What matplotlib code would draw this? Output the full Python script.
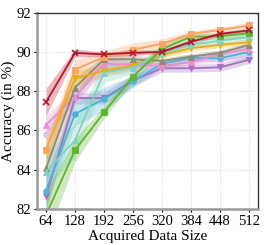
import matplotlib
matplotlib.use("Agg")
import matplotlib.pyplot as plt
import numpy as np

sizes = [64, 128, 192, 256, 320, 384, 448, 512]

red = [87.45, 89.95, 89.88, 89.96, 90.0, 90.52, 90.92, 91.1]
orange = [85.0, 89.1, 89.75, 90.12, 90.42, 90.92, 91.12, 91.35]
green = [81.7, 85.0, 86.92, 88.75, 90.15, 90.78, 90.8, 90.95]
teal = [83.9, 85.5, 88.95, 89.2, 89.95, 90.36, 90.58, 90.75]
yellow = [85.0, 88.65, 89.05, 89.3, 89.85, 90.19, 90.36, 90.5]
brown = [84.08, 88.18, 89.63, 89.63, 89.54, 89.76, 89.96, 90.35]
pink = [86.3, 87.7, 89.4, 89.35, 89.3, 89.48, 89.9, 90.15]
blue = [82.94, 86.85, 87.6, 88.5, 89.4, 89.7, 89.68, 90.0]
lavender = [85.8, 87.8, 89.15, 89.1, 89.35, 89.5, 89.6, 89.78]
purple = [82.64, 87.65, 87.65, 88.55, 89.17, 89.17, 89.22, 89.6]

red_sd = [0.7, 0.2, 0.12, 0.12, 0.12, 0.12, 0.1, 0.1]
orange_sd = [0.6, 0.5, 0.3, 0.35, 0.25, 0.15, 0.15, 0.15]
green_sd = [1.2, 0.6, 0.3, 0.25, 0.3, 0.2, 0.15, 0.15]
teal_sd = [0.8, 0.9, 0.5, 0.3, 0.2, 0.15, 0.15, 0.15]
yellow_sd = [0.6, 0.4, 0.3, 0.2, 0.15, 0.15, 0.15, 0.15]
brown_sd = [0.7, 0.5, 0.2, 0.2, 0.15, 0.15, 0.15, 0.15]
pink_sd = [0.5, 0.3, 0.3, 0.2, 0.15, 0.15, 0.15, 0.15]
blue_sd = [0.8, 0.6, 0.6, 0.3, 0.2, 0.2, 0.15, 0.15]
lavender_sd = [0.5, 0.3, 0.3, 0.2, 0.15, 0.15, 0.15, 0.15]
purple_sd = [0.8, 0.3, 0.3, 0.3, 0.2, 0.2, 0.2, 0.2]

series = [
    (lavender, lavender_sd, "#d8c3e6", "o"),
    (purple, purple_sd, "#a371bf", "v"),
    (blue, blue_sd, "#4eb3d3", "o"),
    (pink, pink_sd, "#e88fd0", "^"),
    (brown, brown_sd, "#8f8a74", "^"),
    (yellow, yellow_sd, "#e6ad0c", "v"),
    (teal, teal_sd, "#7fd3c0", "^"),
    (green, green_sd, "#5db52d", "s"),
    (orange, orange_sd, "#fba266", "s"),
    (red, red_sd, "#b2182b", "x"),
]

plt.rcParams["font.family"] = ["Liberation Serif", "DejaVu Serif"]

fig = plt.figure(figsize=(2.66, 2.45), dpi=100)
ax = fig.add_axes([0.139, 0.147, 0.831, 0.801])

x = np.array(sizes)
for vals, sd, color, mk in series:
    v = np.array(vals)
    s = np.array(sd)
    ax.fill_between(x, v - s, v + s, color=color, alpha=0.3, lw=0)
    ax.plot(x, v, color=color, lw=1.3, marker=mk, ms=4,
            mew=1.2 if mk == "x" else 0.6, mec=color, mfc=color)

ax.set_xlim(44, 532)
ax.set_ylim(82, 92)
ax.set_xticks(sizes)
ax.set_yticks([82, 84, 86, 88, 90, 92])
ax.tick_params(labelsize=10.5, length=2.5, width=0.8, pad=2)
ax.grid(True, ls="--", lw=0.5, color="#dddddd")
ax.set_axisbelow(True)
ax.set_xlabel("Acquired Data Size", fontsize=11, labelpad=1)
ax.set_ylabel("Accuracy (in %)", fontsize=11, labelpad=1)

for side in ["left", "bottom"]:
    ax.spines[side].set_color("#999999")
    ax.spines[side].set_linewidth(1.8)
for side in ["top", "right"]:
    ax.spines[side].set_color("#333333")
    ax.spines[side].set_linewidth(1.0)

fig.savefig("out.png", dpi=100)
